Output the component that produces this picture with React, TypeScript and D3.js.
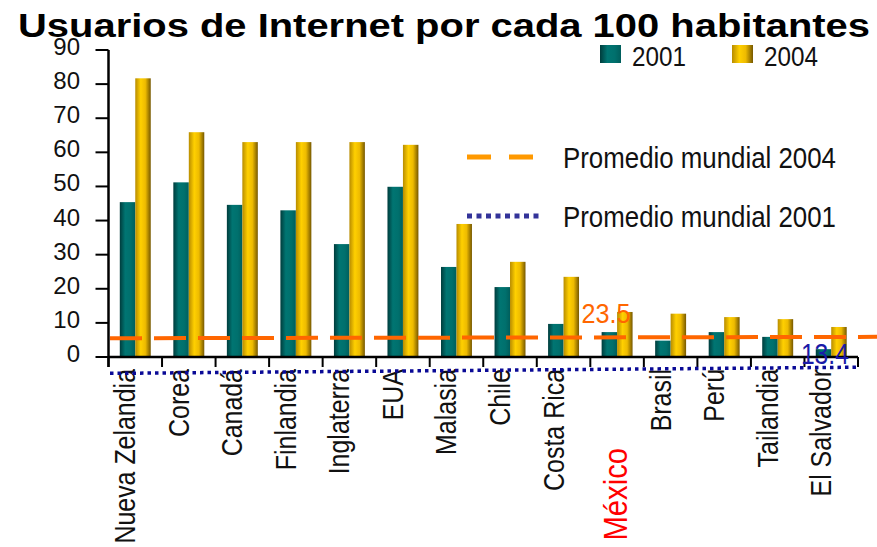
import React from "react";
import * as d3 from "d3";

const width = 877;
const height = 547;
const margin = { top: 50, right: 19, bottom: 190, left: 108.5 };
const font = "'Liberation Sans', Arial, sans-serif";

const paises = [
  "Nueva Zelandia", "Corea", "Canadá", "Finlandia", "Inglaterra", "EUA", "Malasia",
  "Chile", "Costa Rica", "México", "Brasil", "Perú", "Tailandia", "El Salvador",
];
const usuarios2001 = [45.4, 51.2, 44.6, 43, 33.1, 49.9, 26.4, 20.5, 9.7, 7.3, 4.8, 7.3, 5.9, 2.3];
const usuarios2004 = [81.7, 65.9, 63, 63, 63, 62.2, 39, 27.9, 23.5, 13.2, 12.7, 11.7, 11.1, 8.8];
const anios = ["2001", "2004"];
const yTicks = [0, 10, 20, 30, 40, 50, 60, 70, 80, 90];

// the average lines are drawn where the original puts them (not at their labelled value)
const promedio2004 = [5.5, 5.9];
const promedio2001 = [-4.8, -3.0];
const etiqueta2004 = "23.5";
const etiqueta2001 = "13.4";

const colores = { "2001": "url(#gradTeal)", "2004": "url(#gradGold)" };

const App = () => {
  const y0 = height - margin.bottom;
  const x = d3.scaleBand().domain(paises).range([margin.left, width - margin.right]).paddingInner(0).paddingOuter(0);
  const x1 = d3.scaleBand().domain(anios).range([0, x.bandwidth()]).paddingInner(0).paddingOuter(0.73);
  const y = d3.scaleLinear().domain([0, 90]).range([y0, margin.top]);

  const valores = { "2001": usuarios2001, "2004": usuarios2004 };
  const bordes = [...paises.map((p) => x(p)), x.range()[1]];

  const linea = d3.line().x((d) => d[0]).y((d) => y(d[1]));
  const lineaNaranja = linea([[margin.left + 1.5, promedio2004[0]], [width, promedio2004[1]]]);
  const lineaAzul = linea([[margin.left + 1.5, promedio2001[0]], [x.range()[1], promedio2001[1]]]);

  return (
    <svg width={width} height={height} style={{ position: "absolute", left: 0, top: 0, background: "#fff" }} fontFamily={font}>
      <defs>
        <linearGradient id="gradTeal" x1="0" x2="1" y1="0" y2="0">
          <stop offset="0%" stopColor="#003c3c" />
          <stop offset="35%" stopColor="#007572" />
          <stop offset="70%" stopColor="#00706d" />
          <stop offset="100%" stopColor="#005e5c" />
        </linearGradient>
        <linearGradient id="gradGold" x1="0" x2="1" y1="0" y2="0">
          <stop offset="0%" stopColor="#b88c00" />
          <stop offset="35%" stopColor="#ffd000" />
          <stop offset="65%" stopColor="#eebb00" />
          <stop offset="100%" stopColor="#765800" />
        </linearGradient>
      </defs>

      <text x={18} y={37} fontSize={34} fontWeight="bold" textLength={852} lengthAdjust="spacingAndGlyphs">
        Usuarios de Internet por cada 100 habitantes
      </text>

      {/* barras */}
      {paises.map((p, i) => (
        <g key={p} transform={`translate(${x(p)},0)`}>
          {anios.map((a) => (
            <rect key={a} x={x1(a)} y={y(valores[a][i])} width={x1.bandwidth()}
              height={y0 - y(valores[a][i])} fill={colores[a]} />
          ))}
        </g>
      ))}

      {/* ejes */}
      <line x1={margin.left} x2={margin.left} y1={y(90)} y2={y0 + 10} stroke="#000" strokeWidth={2.5} />
      <line x1={margin.left} x2={x.range()[1]} y1={y0} y2={y0} stroke="#000" strokeWidth={2.5} />
      {yTicks.map((t) => (
        <g key={t}>
          <line x1={margin.left - 13} x2={margin.left} y1={y(t)} y2={y(t)} stroke="#000" strokeWidth={2} />
          <text x={80} y={y(t)} dy={5} fontSize={24} textAnchor="end" fill="#111">{t}</text>
        </g>
      ))}
      {bordes.map((b, i) => (
        <line key={i} x1={b} x2={b} y1={y0} y2={y0 + 10} stroke="#000" strokeWidth={2} />
      ))}

      {/* etiquetas de países */}
      {paises.map((p) => {
        const cx = x(p) + x.bandwidth() / 2;
        const mx = p === "México";
        return (
          <text key={p} transform={`translate(${mx ? cx + 10 : cx},${mx ? 448 : 369}) rotate(-90) scale(0.86,1)`}
            textAnchor="end" fontSize={mx ? 34 : 29} fill={mx ? "#ff0000" : "#111"}>
            {p}
          </text>
        );
      })}

      {/* promedios */}
      <path d={lineaNaranja} fill="none" stroke="#ff6600" strokeWidth={4} strokeDasharray="32 12" />
      <path d={lineaAzul} fill="none" stroke="#0a0a96" strokeWidth={3.5} strokeDasharray="3.5 4" />
      <text x={x("México") + x.bandwidth() * 0.75} y={y(10)} textAnchor="end" fontSize={28}
        fill="#ff6600" textLength={49} lengthAdjust="spacingAndGlyphs">{etiqueta2004}</text>
      <text x={x("El Salvador") + x.bandwidth() * 0.83} y={y(-2)} textAnchor="end" fontSize={30}
        fill="#1a1aa8" textLength={48} lengthAdjust="spacingAndGlyphs">{etiqueta2001}</text>

      {/* leyenda */}
      <rect x={600} y={45} width={21} height={18} fill="url(#gradTeal)" />
      <text x={632} y={66} fontSize={27} fill="#111" textLength={54} lengthAdjust="spacingAndGlyphs">{anios[0]}</text>
      <rect x={732} y={45} width={21} height={18} fill="url(#gradGold)" />
      <text x={764} y={66} fontSize={27} fill="#111" textLength={54} lengthAdjust="spacingAndGlyphs">{anios[1]}</text>

      <line x1={467} x2={533} y1={157} y2={157} stroke="#ff9900" strokeWidth={5} strokeDasharray="24 18" />
      <text x={563} y={168} fontSize={30} fill="#111" textLength={273} lengthAdjust="spacingAndGlyphs">
        Promedio mundial 2004
      </text>
      <line x1={467} x2={543} y1={216} y2={216} stroke="#333399" strokeWidth={5} strokeDasharray="5 4.5" />
      <text x={563} y={227} fontSize={30} fill="#111" textLength={273} lengthAdjust="spacingAndGlyphs">
        Promedio mundial 2001
      </text>
    </svg>
  );
};

export default App;
